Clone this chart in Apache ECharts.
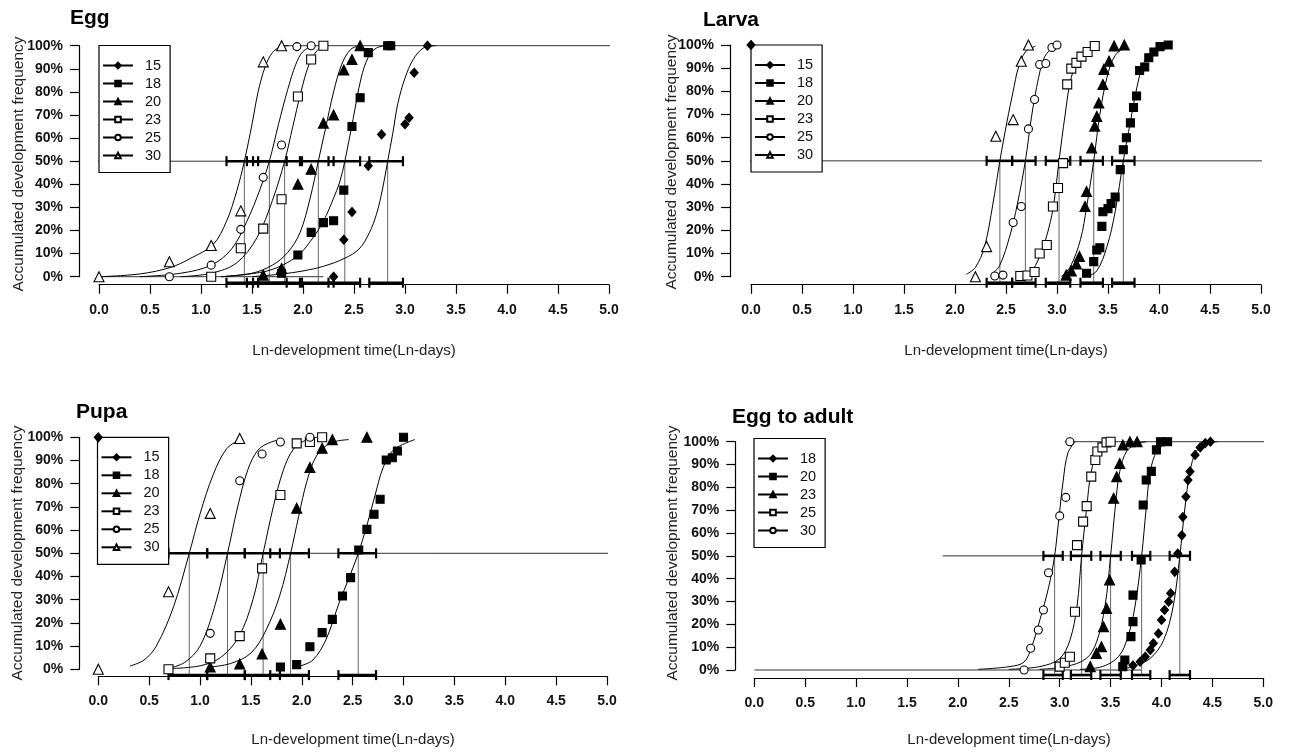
<!DOCTYPE html>
<html><head><meta charset="utf-8">
<script src="https://cdn.jsdelivr.net/npm/echarts@6/dist/echarts.min.js"></script>
<style>html,body{margin:0;padding:0;background:#fff}#c{width:1289px;height:754px}</style>
</head><body><div id="c"></div>
<script>
// ---------------- DATA ----------------
// Egg
const eggTemps = ['15','18','20','23','25','30'];
const eggPts15 = [[2.30,0],[2.40,16],[2.48,28],[2.64,48],[2.77,61.6],[3.00,66],[3.04,68.8],[3.09,88.3],[3.22,100]];
const eggPts18 = [[1.79,1.5],[1.95,9.4],[2.08,19.2],[2.20,23.4],[2.30,24.2],[2.40,37.5],[2.48,65],[2.56,77.5],[2.64,97],[2.83,100],[2.86,100]];
const eggPts20 = [[1.61,0.7],[1.79,3.6],[1.95,40],[2.08,46.5],[2.20,66.5],[2.30,70],[2.40,89.5],[2.48,94],[2.56,100]];
const eggPts23 = [[1.10,0],[1.39,12.3],[1.61,20.8],[1.79,33.5],[1.95,78],[2.08,94],[2.20,100]];
const eggPts25 = [[0.69,0],[1.10,5],[1.39,20.5],[1.61,43],[1.79,57],[1.94,99.6],[2.08,100]];
const eggPts30 = [[0,0],[0.69,6.5],[1.10,13.5],[1.39,28.5],[1.61,93],[1.79,100]];
const eggFit15 = [[1.5,0],[1.8,1.2],[2.0,2.5],[2.2,4.5],[2.41,8],[2.55,12],[2.65,19],[2.72,27],[2.78,38],[2.83,50],[2.88,62],[2.93,75],[3.0,86],[3.08,94],[3.18,99],[3.3,100]];
const eggFit18 = [[1.2,0],[1.6,2],[1.8,5],[1.97,10],[2.1,17],[2.2,24],[2.3,34],[2.36,41],[2.41,50],[2.49,68],[2.57,86],[2.64,95],[2.72,99],[2.82,100]];
const eggFit20 = [[1.2,0],[1.5,1.5],[1.7,5],[1.85,10.5],[1.97,19],[2.07,34],[2.15,50],[2.22,64],[2.3,80],[2.38,92],[2.47,98.5],[2.56,100]];
const eggFit23 = [[0.8,0],[1.1,1.5],[1.35,6],[1.55,17],[1.7,33],[1.82,50],[1.9,65],[1.98,80],[2.06,92],[2.14,98],[2.22,100]];
const eggFit25 = [[0.4,0],[0.8,1.5],[1.1,5],[1.3,12],[1.45,24],[1.58,38],[1.67,50],[1.76,66],[1.85,81],[1.93,92],[2.0,97.5],[2.1,100]];
const eggFit30 = [[0,0],[0.4,1.2],[0.7,4],[0.9,8],[1.12,14],[1.25,24],[1.35,37],[1.425,50],[1.5,66],[1.56,80],[1.63,91],[1.7,97],[1.78,99.5],[1.86,100]];
const eggMed = [2.83,2.41,2.15,1.82,1.67,1.425];
const eggLo  = [2.65,2.25,1.97,1.51,1.45,1.25];
const eggHi  = [2.98,2.56,2.30,1.99,1.84,1.56];
const eggRef50 = [[-0.2,50],[2.98,50]];
const eggRef100 = [[1.8,100],[5.2,100]];
const eggRef0 = [[0,0],[2.2,0]];

// Larva
const larTemps = ['15','18','20','23','25','30'];
const larPts15 = [[0,100]];
const larPts18 = [[3.29,1.5],[3.36,6.5],[3.39,11.5],[3.42,12.5],[3.44,21.7],[3.45,28],[3.50,29.4],[3.53,31.6],[3.57,34.4],[3.62,46.2],[3.65,54.8],[3.68,60],[3.72,66.4],[3.75,73],[3.78,78],[3.81,89],[3.86,90.5],[3.90,94.5],[3.95,97],[4.01,99.3],[4.09,100]];
const larPts20 = [[3.09,0.7],[3.14,2.5],[3.19,5.5],[3.22,8.7],[3.275,30.3],[3.29,36.8],[3.34,55.6],[3.37,65],[3.39,69.2],[3.41,75],[3.45,83],[3.46,89.5],[3.51,93],[3.56,99.6],[3.66,100]];
const larPts23 = [[2.64,0.3],[2.71,0.5],[2.78,2],[2.83,10],[2.90,13.7],[2.96,30.3],[3.01,38.3],[3.06,49],[3.10,83],[3.14,89.8],[3.19,92.3],[3.24,95],[3.30,97],[3.37,99.6]];
const larPts25 = [[2.39,0.3],[2.47,0.7],[2.57,23.4],[2.65,30.3],[2.72,63.8],[2.78,76.5],[2.83,91.6],[2.89,92],[2.95,98.9],[3.00,100]];
const larPts30 = [[2.20,0],[2.31,13],[2.40,60.6],[2.57,67.8],[2.65,93],[2.72,100]];
const larFit18 = [[3.29,0],[3.39,2.5],[3.49,13],[3.57,28],[3.65,50],[3.72,67],[3.78,81],[3.84,91],[3.92,97],[4.07,99.5]];
const larFit20 = [[3.04,0],[3.13,4.3],[3.23,16],[3.29,30],[3.36,50],[3.42,70],[3.49,86],[3.57,95.5],[3.69,99.5]];
const larFit23 = [[2.6,0],[2.73,1.5],[2.83,8.7],[2.92,21],[2.97,32],[3.02,50],[3.08,70],[3.14,86],[3.23,95],[3.36,99.5]];
const larFit25 = [[2.36,1],[2.44,5],[2.54,18],[2.61,31],[2.69,50],[2.75,69],[2.82,86],[2.88,95],[2.97,99.5]];
const larFit30 = [[2.11,1],[2.2,4],[2.29,13],[2.37,31],[2.44,50],[2.51,67],[2.57,80],[2.62,90],[2.69,97],[2.79,99.5]];
const larMed = [null,3.65,3.36,3.02,2.69,2.44];
const larLo  = [null,3.54,3.23,2.89,2.56,2.31];
const larHi  = [null,3.76,3.45,3.13,2.79,2.56];
const larRef50 = [[-0.2,50],[5.2,50]];

// Pupa
const pupTemps = ['15','18','20','23','25','30'];
const pupPts15 = [[0,100]];
const pupPts18 = [[1.79,1],[1.95,2],[2.08,9.7],[2.20,15.8],[2.30,21.5],[2.40,31.6],[2.48,39.5],[2.56,51.4],[2.64,60.3],[2.71,66.8],[2.77,73.3],[2.83,90.2],[2.89,91.2],[2.94,94.1],[3.00,100]];
const pupPts20 = [[1.10,1],[1.39,2.3],[1.61,6.6],[1.79,19.4],[1.95,69.4],[2.08,87],[2.20,95.3],[2.30,99],[2.64,100]];
const pupPts23 = [[0.69,0],[1.10,4.7],[1.39,14.3],[1.61,43.5],[1.79,75.1],[1.95,97.4],[2.08,98],[2.20,100]];
const pupPts25 = [[1.10,15.5],[1.39,81.3],[1.61,92.8],[1.79,98],[2.08,100]];
const pupPts30 = [[0,0],[0.69,33.4],[1.10,67.2],[1.39,99.5]];
const pupFit18 = [[1.98,1.4],[2.11,4],[2.24,13],[2.37,29],[2.47,40],[2.555,50],[2.64,62],[2.72,75],[2.80,87],[2.9,94.5],[3.11,99]];
const pupFit20 = [[1.1,1],[1.3,2.5],[1.5,7],[1.65,17],[1.785,32],[1.89,50],[1.97,66],[2.05,81],[2.145,92],[2.28,97.5],[2.46,99]];
const pupFit23 = [[0.7,0.3],[1.0,1.5],[1.2,5],[1.38,14],[1.52,30],[1.62,50],[1.72,70],[1.82,86],[1.92,95],[2.05,99],[2.15,100]];
const pupFit25 = [[0.7,0.5],[0.85,3],[1.0,10],[1.15,28],[1.27,50],[1.37,70],[1.47,86],[1.57,94.5],[1.7,98],[1.82,99]];
const pupFit30 = [[0.31,1.4],[0.45,4],[0.57,10],[0.74,27],[0.894,50],[1.0,67],[1.13,84],[1.26,95],[1.39,99]];
const pupMed = [null,2.555,1.89,1.62,1.27,0.894];
const pupLo  = [null,2.36,1.69,1.44,1.07,0.69];
const pupHi  = [null,2.73,2.07,1.785,1.44,1.07];
const pupRef50 = [[-0.2,50],[5.2,50]];

// Egg to adult
const etaTemps = ['18','20','23','25','30'];
const etaPts18 = [[3.72,2],[3.79,3.6],[3.84,5.8],[3.89,8.8],[3.92,11.7],[3.97,16],[4.00,21.9],[4.03,26.3],[4.07,29.9],[4.09,33.6],[4.13,43],[4.16,51],[4.20,59],[4.21,67],[4.24,75.9],[4.26,83.2],[4.28,87],[4.33,94.2],[4.38,97.5],[4.43,99.4],[4.48,100]];
const etaPts20 = [[3.62,1.5],[3.64,4.4],[3.70,14.6],[3.72,21.2],[3.72,32.8],[3.80,48.2],[3.82,72.3],[3.85,83.2],[3.90,87],[3.95,96.4],[3.99,100],[4.06,100]];
const etaPts23 = [[3.30,1.5],[3.36,7.3],[3.41,10.2],[3.43,19],[3.46,27],[3.49,39.4],[3.53,75.2],[3.56,84.7],[3.59,90.5],[3.62,98.6],[3.69,100],[3.76,100]];
const etaPts25 = [[3.00,1.5],[3.05,3.2],[3.10,5.8],[3.15,25.5],[3.17,54.7],[3.23,65],[3.265,71.8],[3.31,84.7],[3.35,92],[3.37,95.7],[3.42,97.5],[3.46,99.7],[3.50,100]];
const etaPts30 = [[2.65,0],[2.715,9.5],[2.79,17.5],[2.84,26.3],[2.89,42.6],[3.00,67.5],[3.06,75.6],[3.10,100]];
const etaFit18 = [[3.6,0.5],[3.72,1.5],[3.887,5],[4.02,13],[4.115,28],[4.18,50],[4.23,71],[4.28,87],[4.345,96],[4.46,99.5],[4.55,100]];
const etaFit20 = [[3.2,0.3],[3.42,1.5],[3.58,6],[3.67,14.6],[3.74,28],[3.805,50],[3.85,71],[3.89,87],[3.955,96],[4.04,99],[4.1,100]];
const etaFit23 = [[2.8,0.3],[3.06,1.5],[3.26,5],[3.36,12],[3.445,28],[3.50,50],[3.545,71],[3.59,87],[3.66,96],[3.76,99],[3.85,100]];
const etaFit25 = [[2.5,0.3],[2.805,1.5],[3.0,5],[3.10,13],[3.17,28],[3.215,50],[3.265,71],[3.31,87],[3.38,96],[3.46,99],[3.55,100]];
const etaFit30 = [[2.2,0.3],[2.51,1.5],[2.65,3.5],[2.725,10.2],[2.805,21.9],[2.89,36],[2.95,50],[2.99,65.7],[3.035,83.2],[3.08,95],[3.15,100]];
const etaMed = [4.18,3.805,3.50,3.215,2.95];
const etaLo  = [4.08,3.71,3.40,3.11,2.84];
const etaHi  = [4.28,3.89,3.60,3.31,3.03];
const etaRef50 = [[1.85,50],[4.28,50]];
const etaRef100 = [[3.05,100],[5.2,100]];
const etaRef0 = [[0,0],[3.8,0]];

const xTicks = [0,0.5,1,1.5,2,2.5,3,3.5,4,4.5,5];
const yTicks = [0,10,20,30,40,50,60,70,80,90,100];
const panelTitles = ['Egg','Larva','Pupa','Egg to adult'];
const xTitle = 'Ln-development time(Ln-days)';
const yTitle = 'Accumulated development frequency';

// ---------------- STYLE / LAYOUT ----------------
const FONT = "'Liberation Sans', Arial, Helvetica, sans-serif";
const STY = {
  dia:  {symbol:'diamond',  size:[8,9],  fill:'#000'},
  sq:   {symbol:'rect',     size:8,  fill:'#000'},
  tri:  {symbol:'triangle', size:10, fill:'#000'},
  osq:  {symbol:'rect',     size:9,  fill:'#fff'},
  ocir: {symbol:'circle',   size:8,  fill:'#fff'},
  otri: {symbol:'triangle', size:10, fill:'#fff'}
};
const panels = [
  {key:'egg', temps:eggTemps, sty:['dia','sq','tri','osq','ocir','otri'],
   pts:[eggPts15,eggPts18,eggPts20,eggPts23,eggPts25,eggPts30],
   fits:[eggFit15,eggFit18,eggFit20,eggFit23,eggFit25,eggFit30],
   med:eggMed, lo:eggLo, hi:eggHi, refs:[eggRef50,eggRef100,eggRef0], bottom:-2.6,
   grid:{left:99, top:45.7, width:510, height:231}, xOff:8, yOff:20,
   title:{x:70,y:20}, yt:{x:19,y:164}, xt:{x:354,y:351}, leg:{left:99, top:45.5}},
  {key:'lar', temps:larTemps, sty:['dia','sq','tri','osq','ocir','otri'],
   pts:[larPts15,larPts18,larPts20,larPts23,larPts25,larPts30],
   fits:[null,larFit18,larFit20,larFit23,larFit25,larFit30],
   med:larMed, lo:larLo, hi:larHi, refs:[larRef50], bottom:-2.6,
   grid:{left:751, top:45, width:510, height:231.7}, xOff:8, yOff:21,
   title:{x:703,y:22}, yt:{x:672,y:162}, xt:{x:1006,y:351}, leg:{left:751, top:45}},
  {key:'pup', temps:pupTemps, sty:['dia','sq','tri','osq','ocir','otri'],
   pts:[pupPts15,pupPts18,pupPts20,pupPts23,pupPts25,pupPts30],
   fits:[null,pupFit18,pupFit20,pupFit23,pupFit25,pupFit30],
   med:pupMed, lo:pupLo, hi:pupHi, refs:[pupRef50], bottom:-2.5,
   grid:{left:98.3, top:437.3, width:508.7, height:232}, xOff:7, yOff:19,
   title:{x:76,y:414}, yt:{x:18,y:553}, xt:{x:353,y:740}, leg:{left:97.5, top:437.3}},
  {key:'eta', temps:etaTemps, sty:['dia','sq','tri','osq','ocir'],
   pts:[etaPts18,etaPts20,etaPts23,etaPts25,etaPts30],
   fits:[etaFit18,etaFit20,etaFit23,etaFit25,etaFit30],
   med:etaMed, lo:etaLo, hi:etaHi, refs:[etaRef50,etaRef100,etaRef0], bottom:-2.2,
   grid:{left:754.3, top:441.7, width:509, height:228.3}, xOff:8, yOff:19,
   title:{x:732,y:419}, yt:{x:673,y:553}, xt:{x:1009,y:740}, leg:{left:754, top:438.5}}
];

const grid=[], xAxis=[], yAxis=[], series=[], legend=[], graphic=[];
panels.forEach((p, gi) => {
  grid.push(Object.assign({containLabel:false}, p.grid));
  xAxis.push({type:'value', gridIndex:gi, min:xTicks[0], max:xTicks[xTicks.length-1], interval:0.5,
    position:'bottom', offset:p.xOff,
    axisLine:{show:true, onZero:false, lineStyle:{color:'#000', width:1.2}},
    axisTick:{show:true, inside:false, length:9, lineStyle:{color:'#000', width:1.2}},
    splitLine:{show:false},
    axisLabel:{formatter:v=>v.toFixed(1), color:'#111', fontFamily:FONT, fontSize:14, fontWeight:'bold', margin:18}});
  yAxis.push({type:'value', gridIndex:gi, min:yTicks[0], max:yTicks[yTicks.length-1], interval:10,
    position:'left', offset:p.yOff,
    axisLine:{show:true, onZero:false, lineStyle:{color:'#000', width:1.2}},
    axisTick:{show:true, inside:false, length:9, lineStyle:{color:'#000', width:1.2}},
    splitLine:{show:false},
    axisLabel:{formatter:v=>v+'%', color:'#111', fontFamily:FONT, fontSize:14, fontWeight:'bold', margin:16}});

  const ax = {xAxisIndex:gi, yAxisIndex:gi};
  p.refs.forEach(r => series.push(Object.assign({type:'line', data:r, symbol:'none', clip:false, silent:true, z:1,
    lineStyle:{color:'#333', width:1}}, ax)));
  p.temps.forEach((t, i) => {
    if (p.med[i] != null) {
      series.push(Object.assign({type:'line', data:[[p.med[i],50],[p.med[i],p.bottom]], symbol:'none', clip:false, silent:true, z:1,
        lineStyle:{color:'#666', width:1}}, ax));
      [50, p.bottom].forEach(yy => series.push(Object.assign({type:'line', data:[[p.lo[i],yy],[p.hi[i],yy]],
        symbol:'rect', symbolSize:[2.2,10], showSymbol:true, showAllSymbol:true, clip:false, silent:true, z:3,
        itemStyle:{color:'#000'}, lineStyle:{color:'#000', width:2.6}}, ax)));
    }
    if (p.fits[i]) {
      series.push(Object.assign({type:'line', data:p.fits[i], smooth:0.35, symbol:'none',
        clip:false, silent:true, z:2, lineStyle:{color:'#000', width:1}}, ax));
    }
    const s = STY[p.sty[i]];
    series.push(Object.assign({type:'scatter', name:p.key+'|'+t+'|pts', data:p.pts[i], symbol:s.symbol, symbolSize:s.size,
      clip:false, z:5, itemStyle:{color:s.fill, borderColor:'#000', borderWidth:1.1, opacity:1}}, ax));
    series.push(Object.assign({type:'line', name:p.key+'|'+t, data:[], symbol:s.symbol, symbolSize:5,
      itemStyle:{color:s.fill, borderColor:'#000', borderWidth:1}, lineStyle:{color:'#000', width:1.3}}, ax));
  });
  legend.push({orient:'vertical', left:p.leg.left, top:p.leg.top, data:p.temps.map(t=>p.key+'|'+t),
    formatter:n=>n.split('|')[1], selectedMode:false,
    backgroundColor:'#fff', borderColor:'#000', borderWidth:1.2,
    padding:[12,9,9,3], itemGap:2, itemWidth:30, itemHeight:7,
    textStyle:{fontFamily:FONT, fontSize:14.5, color:'#111', lineHeight:16, padding:[0,0,0,7]}});

  graphic.push({type:'text', left:p.title.x, top:p.title.y-12, style:{text:panelTitles[gi], font:'bold 21px '+FONT, fill:'#000'}});
  graphic.push({type:'text', x:p.yt.x, y:p.yt.y, rotation:Math.PI/2,
    style:{text:yTitle, font:'15.5px '+FONT, fill:'#222', align:'center', verticalAlign:'middle'}});
  graphic.push({type:'text', x:p.xt.x, y:p.xt.y,
    style:{text:xTitle, font:'15px '+FONT, fill:'#222', align:'center', verticalAlign:'middle'}});
});

const chart = echarts.init(document.getElementById('c'), null, {renderer:'canvas'});
chart.setOption({animation:false, backgroundColor:'#fff', grid, xAxis, yAxis, series, legend, graphic});
</script></body></html>
